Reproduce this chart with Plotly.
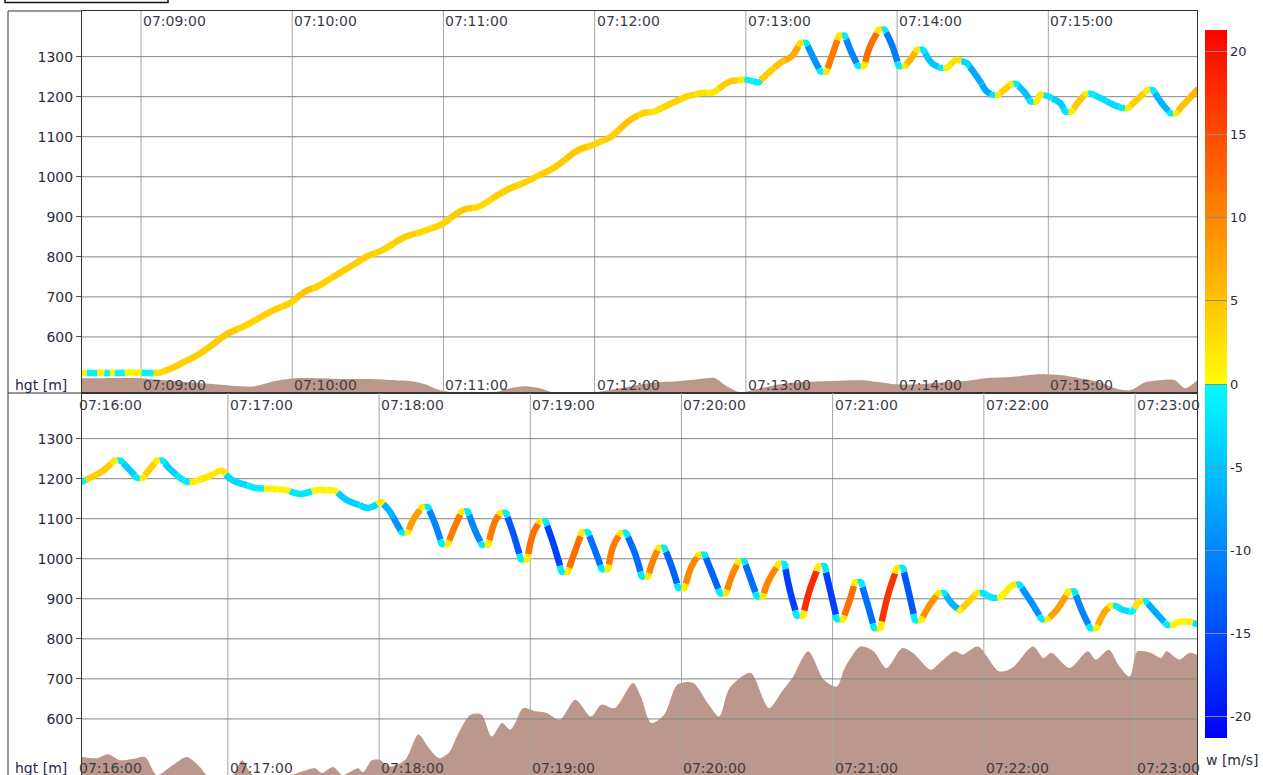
import plotly.graph_objects as go
from plotly.colors import find_intermediate_color

# ---------------- data (time = seconds after 07:00:00, height in m, w in m/s) ----------------
top_track_t = [516, 521, 524.3, 526.7, 528.7, 530.7, 536.5, 544, 547.6,
               552.2, 562.8, 574.9, 581, 591.7, 599.3, 605.4, 609.9, 622.1, 629.7, 635.8,
               644.9, 652.5, 658.6, 667.7, 673.8, 686, 692, 704.2, 713.3, 720.2, 726.2,
               734.6, 739.2, 743.7, 751.4, 756.5, 761.8, 767.1, 773.7, 778.4, 780.4, 785,
               789.6, 793.6, 798.2, 801.6, 804, 806.8, 809.6, 812, 814.1, 816.9, 819.3, 822,
               824.5, 826.9, 829.3, 832.7, 835.1, 837.9, 840.7, 843.1, 845.2, 847.9, 850.3,
               853.8, 857.2, 859.6, 863.7, 867.7, 871.6, 875.6, 877.7, 880.1, 883.5, 885,
               887.4, 890.8, 892.9, 895.3, 896.8, 900, 904.7, 906.8, 909.2, 912.6, 914.7, 917.1,
               920.6, 925.8, 929.3, 931.7, 935.1, 939.2, 941.6, 945, 948.4, 950.8, 953.6, 959.5]
top_track_h = [511, 510, 511, 510, 511, 510, 511, 510, 511,
               522, 556, 610, 627, 664, 685, 714, 726, 772, 801, 817,
               850, 865, 879, 917, 925, 970, 985, 1024, 1066, 1082, 1099,
               1144, 1159, 1163, 1186, 1200, 1209, 1211, 1238, 1242, 1242, 1236,
               1263, 1284, 1301, 1334, 1334, 1297, 1263, 1263, 1301, 1352, 1352, 1309,
               1277, 1277, 1326, 1367, 1367, 1330, 1277, 1277, 1292, 1317, 1317,
               1284, 1272, 1272, 1292, 1284, 1251, 1213, 1205, 1205, 1222, 1232,
               1232, 1209, 1188, 1188, 1205, 1201, 1184, 1163, 1163, 1192, 1207, 1207,
               1197, 1180, 1172, 1172, 1192, 1216, 1216, 1184, 1159, 1159, 1180, 1219]
top_track_w = [0.8, -0.8, 0.8, -0.8, 0.8, -0.8, 0.8, -0.8, 3,
               4, 4, 4.5, 3.5, 4, 3.5, 5, 3.5, 4, 4, 3.5,
               4, 3, 3.5, 4.5, 3, 4, 3.5, 4, 4.5, 3.5, 4,
               5, 3.5, 2.5, 3.5, 3.5, 2.5, 2, 4, 2, -1, -1,
               4, 5, 7, 2, -1.5, -9, -1.5, 1.5, 11, 2, -1.5, -10,
               -1.5, 1.5, 12, 2, -1.5, -11, -1.5, 1.5, 6, 1.5, -1.5,
               -5, -1.5, 1.5, 2.5, -3, -7, -7, -2, 1.5, 4, 1.5,
               -1.5, -5, -2, 1.5, 1.5, -2, -4, -2, 1.5, 4.5, 1.5, -1.5,
               -2.5, -3, -1.5, 1.5, 4, 1.5, -1.5, -6, -1.5, 1.5, 5, 6]

bottom_track_t = [962, 970, 975.1, 977.5, 980.7, 983.9, 986.3, 989, 991.8, 994.2, 997, 1001,
                  1003.7, 1006.1, 1010.9, 1017.6, 1021.6, 1030.7, 1036.7, 1042.6, 1048.6, 1055.7,
                  1062.5, 1067.6, 1075.6, 1081, 1084.3, 1087.6, 1089, 1091.4, 1093.5, 1097,
                  1099.4, 1102.1, 1104.9, 1107.3, 1110.1, 1112.8, 1115.2, 1118, 1120.8, 1123.2,
                  1126, 1128, 1130.4, 1133.2, 1136.3, 1138.7, 1141.2, 1143.7, 1146.1, 1149.1,
                  1152.5, 1154.9, 1157.7, 1160.5, 1162.9, 1165.6, 1168.4, 1170.8, 1172.9, 1175.7,
                  1178.1, 1181.5, 1184.3, 1186.7, 1188.8, 1190.9, 1193.3, 1196.1, 1198.8, 1201.2,
                  1204, 1206.8, 1209.2, 1211.9, 1215.3, 1217.7, 1219.9, 1222.6, 1225, 1227.1,
                  1229.9, 1232.3, 1234.4, 1238.5, 1240.9, 1243, 1245.8, 1248.2, 1250.9, 1254.4,
                  1256.8, 1259.6, 1261.7, 1264.1, 1266.8, 1268.9, 1271.3, 1274.1, 1276.5, 1278.9,
                  1282, 1285.5, 1287.9, 1290, 1292.7, 1295.1, 1298.6, 1302, 1304.4, 1307.2,
                  1310.5, 1314.4, 1317.2, 1319.6, 1323.7, 1326.4, 1331.8, 1334.2, 1338.3, 1343,
                  1345.4, 1348.9, 1353.6, 1356, 1358.8, 1362.2, 1364.6, 1368, 1370.1, 1372.5,
                  1375.3, 1378.6, 1382, 1384.4, 1387.9, 1392.6, 1395, 1397.8, 1401.7, 1405.5]
bottom_track_h = [1192, 1218, 1245, 1245, 1224, 1202, 1202, 1224, 1245, 1245, 1224, 1202,
                  1192, 1192, 1202, 1220, 1197, 1177, 1175, 1172, 1162, 1172,
                  1170, 1145, 1127, 1141, 1118, 1081, 1066, 1066, 1097, 1129,
                  1129, 1089, 1037, 1037, 1081, 1118, 1118, 1072, 1035, 1035,
                  1093, 1114, 1114, 1064, 999, 999, 1064, 1093, 1093, 1039,
                  968, 968, 1018, 1066, 1066, 1022, 974, 974, 1031, 1064,
                  1064, 1014, 956, 956, 997, 1027, 1027, 981, 927, 927,
                  981, 1010, 1010, 968, 914, 914, 956, 993, 993, 956,
                  906, 906, 943, 987, 987, 922, 858, 858, 922, 981,
                  981, 906, 849, 849, 897, 941, 941, 881, 827, 827,
                  910, 977, 977, 922, 847, 847, 885, 914, 914, 889,
                  871, 896, 914, 914, 902, 904, 935, 935, 897, 849,
                  849, 872, 918, 918, 872, 827, 827, 868, 882, 882,
                  872, 868, 893, 893, 868, 835, 835, 843, 843, 835]
bottom_track_w = [-1, 4, 1.5, -1.5, -4, -1.5, 1.5, 4, 1.5, -1.5, -4, -2,
                  -1.5, 1.5, 2, 2, -3, -1.5, 1, 1, -2, 1,
                  1, -4, -3, 1.5, -6, -9, -1.5, 1.5, 8, 1.5,
                  -1.5, -10, -1.5, 1.5, 11, 1.5, -1.5, -10, -1.5, 1.5,
                  11, 1.5, -1.5, -14, -1.5, 1.5, 12, 1.5, -1.5, -16,
                  -1.5, 1.5, 12, 1.5, -1.5, -12, -1.5, 1.5, 11, 1.5,
                  -1.5, -12, -1.5, 1.5, 10, 1.5, -1.5, -13, -1.5, 1.5,
                  10, 1.5, -1.5, -13, -1.5, 1.5, 10, 1.5, -1.5, -12,
                  -1.5, 1.5, 10, 1.5, -1.5, -16, -1.5, 1.5, 18, 1.5,
                  -1.5, -16, -1.5, 1.5, 12, 1.5, -1.5, -12, -1.5, 1.5,
                  17, 1.5, -1.5, -14, -1.5, 1.5, 9, 1.5, -1.5, -6,
                  1, 4, 1.5, -1.5, -2, 1, 1.5, -1.5, -9, -1.5,
                  1.5, 8, 1.5, -1.5, -10, -1.5, 1.5, 7, 1.5, -1.5,
                  -3, -1, 2, -1.5, -7, -1.5, 1, 1, 1, -2]

top_terrain_t = [515, 523.7, 539.6, 549.5, 559.4, 569.4, 579.3, 585.2, 593.2, 601.1, 611, 621,
                 630.9, 640.8, 646.7, 652.7, 658.7, 666.6, 678.5, 686.4, 692.4, 698.3, 704.3,
                 712.2, 720.2, 730.1, 742, 753.9, 761.8, 767.8, 771.7, 777.7, 785.6, 793.6,
                 801.5, 813.4, 825.3, 833.3, 839.2, 849.1, 859.1, 867, 874.9, 884.8, 896.7,
                 904.7, 912.6, 920.6, 926.5, 932.5, 938.4, 944.4, 950.3, 954.3, 960]
top_terrain_h = [497, 497, 497, 492, 487, 482, 477, 477, 490, 497, 497, 495,
                 495, 492, 490, 482, 467, 460, 460, 472, 477, 472, 460,
                 460, 462, 472, 485, 490, 495, 497, 480, 462, 472, 482,
                 487, 490, 492, 487, 482, 482, 487, 490, 497, 500, 507,
                 505, 497, 487, 472, 467, 487, 492, 492, 472, 497]

bottom_terrain_t = [961, 967.9, 972.4, 977.1, 982.3, 987.1, 991.8, 998.2, 1003.7, 1008.9, 1011.7,
                    1022, 1025.6, 1029.9, 1044.6, 1054.5, 1057.3, 1061.7, 1065.6, 1071.6, 1073.6,
                    1077.1, 1080.1, 1084.2, 1090.4, 1095.6, 1099.8, 1103.9, 1108.1, 1111.2, 1116.4,
                    1120.6, 1124.7, 1128.8, 1132, 1134, 1137.1, 1142.3, 1146.5, 1151.7, 1157.9,
                    1164.1, 1168.3, 1173.5, 1180.8, 1183.9, 1188, 1193.2, 1198.4, 1204.6, 1210.8,
                    1215, 1219.1, 1227.4, 1234.7, 1239.9, 1244, 1250.3, 1256.5, 1261.7, 1264.8,
                    1271, 1276.2, 1281.4, 1287.6, 1291.8, 1299, 1303.2, 1308.4, 1311.5, 1317.7,
                    1326, 1331.2, 1339.5, 1343.7, 1346.8, 1354, 1361.3, 1364.4, 1369.6, 1373.8,
                    1377.9, 1381, 1386.2, 1390.3, 1392.5, 1397.6, 1401.7, 1406]
bottom_terrain_h = [506, 502, 512, 497, 500, 505, 460, 485, 505, 480, 460,
                    460, 497, 460, 460, 477, 465, 480, 460, 477, 467,
                    497, 498, 481, 498, 561, 527, 502, 519, 561, 611,
                    611, 556, 590, 573, 590, 627, 619, 615, 598, 648,
                    606, 636, 627, 690, 656, 590, 611, 686, 690, 636,
                    606, 677, 715, 627, 669, 702, 769, 698, 681, 727,
                    781, 769, 727, 777, 765, 723, 744, 769, 761, 781,
                    719, 727, 781, 752, 765, 727, 769, 748, 773, 731,
                    706, 769, 765, 752, 769, 748, 765, 756]

top_time_labels = ["07:09:00", "07:10:00", "07:11:00", "07:12:00", "07:13:00", "07:14:00", "07:15:00"]
bottom_time_labels = ["07:16:00", "07:17:00", "07:18:00", "07:19:00", "07:20:00", "07:21:00",
                      "07:22:00", "07:23:00"]
height_ticks = [600, 700, 800, 900, 1000, 1100, 1200, 1300]
w_ticks = [-20, -15, -10, -5, 0, 5, 10, 15, 20]

# ---------------- styling ----------------
FONT = "DejaVu Sans"
W_MIN, W_MAX = -21.3, 21.3
BLUE, CYAN, YELLOW, RED = "rgb(0,0,255)", "rgb(0,255,255)", "rgb(255,255,0)", "rgb(255,0,0)"
COLORSCALE = [[0.0, BLUE], [0.5, CYAN], [0.5, YELLOW], [1.0, RED]]
TERRAIN = "#bb988b"
LINE_W = 6.5


def to_sec(lbl):
    hh, mm, ss = (int(v) for v in lbl.split(":"))
    return (hh - 7) * 3600 + mm * 60 + ss


def wcolor(w):
    f = (w - W_MIN) / (W_MAX - W_MIN)
    f = min(max(f, 0.0), 1.0)
    if f < 0.5:
        return find_intermediate_color(BLUE, CYAN, f / 0.5, colortype="rgb")
    return find_intermediate_color(YELLOW, RED, (f - 0.5) / 0.5, colortype="rgb")


fig = go.Figure()

panels = [
    dict(xa="x", ya="y", tt=top_track_t, th=top_track_h, tw=top_track_w,
         gt=top_terrain_t, gh=top_terrain_h, labels=top_time_labels, rng=[516.6, 959.0]),
    dict(xa="x2", ya="y2", tt=bottom_track_t, th=bottom_track_h, tw=bottom_track_w,
         gt=bottom_terrain_t, gh=bottom_terrain_h, labels=bottom_time_labels, rng=[962.1, 1404.6]),
]
Y_RANGE = [460, 1414]

for k, p in enumerate(panels):
    xa, ya = p["xa"], p["ya"]
    # terrain
    fig.add_trace(go.Scatter(x=p["gt"], y=p["gh"], mode="lines", fill="tozeroy",
                             fillcolor=TERRAIN, line=dict(width=0, color=TERRAIN, shape="spline",
                                                          smoothing=0.8),
                             xaxis=xa, yaxis=ya, hoverinfo="skip", showlegend=False))
    # grid lines (above terrain, below track)
    secs = [to_sec(s) for s in p["labels"]] + [to_sec(p["labels"][-1]) + 60]
    gx, gy = [], []
    for s in secs:
        gx += [s, s, None]
        gy += [Y_RANGE[0] - 50, Y_RANGE[1] + 50, None]
    fig.add_trace(go.Scatter(x=gx, y=gy, mode="lines", line=dict(color="#a6a6a6", width=1),
                             xaxis=xa, yaxis=ya, hoverinfo="skip", showlegend=False))
    hx, hy = [], []
    for v in height_ticks:
        hx += [p["rng"][0] - 30, p["rng"][1] + 30, None]
        hy += [v, v, None]
    fig.add_trace(go.Scatter(x=hx, y=hy, mode="lines", line=dict(color="#858585", width=1),
                             xaxis=xa, yaxis=ya, hoverinfo="skip", showlegend=False))
    # track, coloured by w: each sample colours the stretch of path nearest to it
    t, h, w = p["tt"], p["th"], p["tw"]
    n = len(t)
    bounds = []
    for i in range(n - 1):
        a, b = abs(w[i]), abs(w[i + 1])
        f = 0.5 if a + b == 0 else a / (a + b)
        f = min(max(f, 0.2), 0.8)
        bounds.append((t[i] + f * (t[i + 1] - t[i]), h[i] + f * (h[i + 1] - h[i])))
    for i in range(n):
        xs, ys = [], []
        if i > 0:
            xs.append(bounds[i - 1][0])
            ys.append(bounds[i - 1][1])
        xs.append(t[i])
        ys.append(h[i])
        if i < n - 1:
            xs.append(bounds[i][0])
            ys.append(bounds[i][1])
        fig.add_trace(go.Scatter(x=xs, y=ys, mode="lines",
                                 line=dict(color=wcolor(w[i]), width=LINE_W, shape="spline",
                                           smoothing=1.2),
                                 xaxis=xa, yaxis=ya, hoverinfo="skip", showlegend=False))
    fig.add_trace(go.Scatter(x=t, y=h, mode="markers",
                             marker=dict(size=5.5, color=w, coloraxis="coloraxis"),
                             xaxis=xa, yaxis=ya, hoverinfo="skip", showlegend=False))

# ---------------- layout ----------------
def paper_y(px):
    return (775 - px) / 764


def paper_x(px):
    return (px - 82) / 1115


axis_common = dict(showgrid=False, zeroline=False, showline=True, mirror=True,
                   linecolor="#333333", linewidth=1)

fig.update_layout(
    width=1263, height=775,
    margin=dict(l=82, r=66, t=11, b=0, autoexpand=False),
    paper_bgcolor="white", plot_bgcolor="white",
    font=dict(family=FONT, size=14, color="#2b2b3b"),
    xaxis=dict(domain=[0, 1], anchor="y", range=panels[0]["rng"], showticklabels=False,
               ticks="", **axis_common),
    yaxis=dict(domain=[0.5, 1], anchor="x", range=Y_RANGE, tickvals=height_ticks,
               ticktext=[str(v) for v in height_ticks], ticks="outside", ticklen=5,
               tickcolor="#555555", tickfont=dict(size=14, color="#2b2b3b"), **axis_common),
    xaxis2=dict(domain=[0, 1], anchor="y2", range=panels[1]["rng"], showticklabels=False,
                ticks="", **axis_common),
    yaxis2=dict(domain=[0, 0.5], anchor="x2", range=Y_RANGE, tickvals=height_ticks,
                ticktext=[str(v) for v in height_ticks], ticks="outside", ticklen=5,
                tickcolor="#555555", tickfont=dict(size=14, color="#2b2b3b"), **axis_common),
    coloraxis=dict(
        colorscale=COLORSCALE, cmin=W_MIN, cmax=W_MAX,
        colorbar=dict(thickness=22, thicknessmode="pixels", len=708 / 764, lenmode="fraction",
                      x=paper_x(1205), xanchor="left", xpad=0, y=paper_y(384), yanchor="middle",
                      ypad=0, outlinewidth=0, tickvals=w_ticks, ticktext=[str(v) for v in w_ticks],
                      ticks="inside", ticklen=22, tickcolor="#8a8a8a", tickwidth=1,
                      tickfont=dict(family=FONT, size=13, color="#2b2b3b")),
    ),
)

annotations = []
time_rows = [(panels[0], "x", [paper_y(21), paper_y(385)]),
             (panels[1], "x2", [paper_y(405), paper_y(768)])]
for p, xref, ys in time_rows:
    r0, r1 = p["rng"]
    for lbl in p["labels"]:
        s = to_sec(lbl)
        for yy in ys:
            if r0 <= s <= r1:
                xpos, xr = s, xref
            else:  # label of a grid line just outside the panel (cut at the frame)
                xpos, xr = (s - r0) / (r1 - r0), "paper"
            annotations.append(dict(x=xpos, xref=xr, y=yy, yref="paper", text=lbl,
                                    showarrow=False, xanchor="left", yanchor="middle",
                                    font=dict(family=FONT, size=14, color="#3c3c48")))
for yy in [paper_y(385), paper_y(768)]:
    annotations.append(dict(x=paper_x(13), xref="paper", y=yy, yref="paper", text="hgt [m]",
                            showarrow=False, xanchor="left", yanchor="middle",
                            font=dict(family=FONT, size=14, color="#26264a")))
annotations.append(dict(x=paper_x(1204), xref="paper", y=paper_y(760), yref="paper",
                        text="w [m/s]", showarrow=False, xanchor="left", yanchor="middle",
                        font=dict(family=FONT, size=14, color="#2b2b3b")))
fig.update_layout(annotations=annotations)

frame = dict(color="#333333", width=1)
fig.update_layout(shapes=[
    dict(type="line", xref="paper", yref="paper", x0=paper_x(8), x1=paper_x(8), y0=0, y1=1, line=frame),
    dict(type="line", xref="paper", yref="paper", x0=paper_x(8), x1=0, y0=1, y1=1, line=frame),
    dict(type="line", xref="paper", yref="paper", x0=paper_x(8), x1=0, y0=0.5, y1=0.5, line=frame),
    dict(type="rect", xref="paper", yref="paper", x0=paper_x(5), x1=paper_x(168),
         y0=paper_y(2.5), y1=paper_y(-30), line=dict(color="#111111", width=1.5)),
])

fig.write_html("out.html", config={"displayModeBar": False},
               post_script="document.body.style.margin='0px';")
